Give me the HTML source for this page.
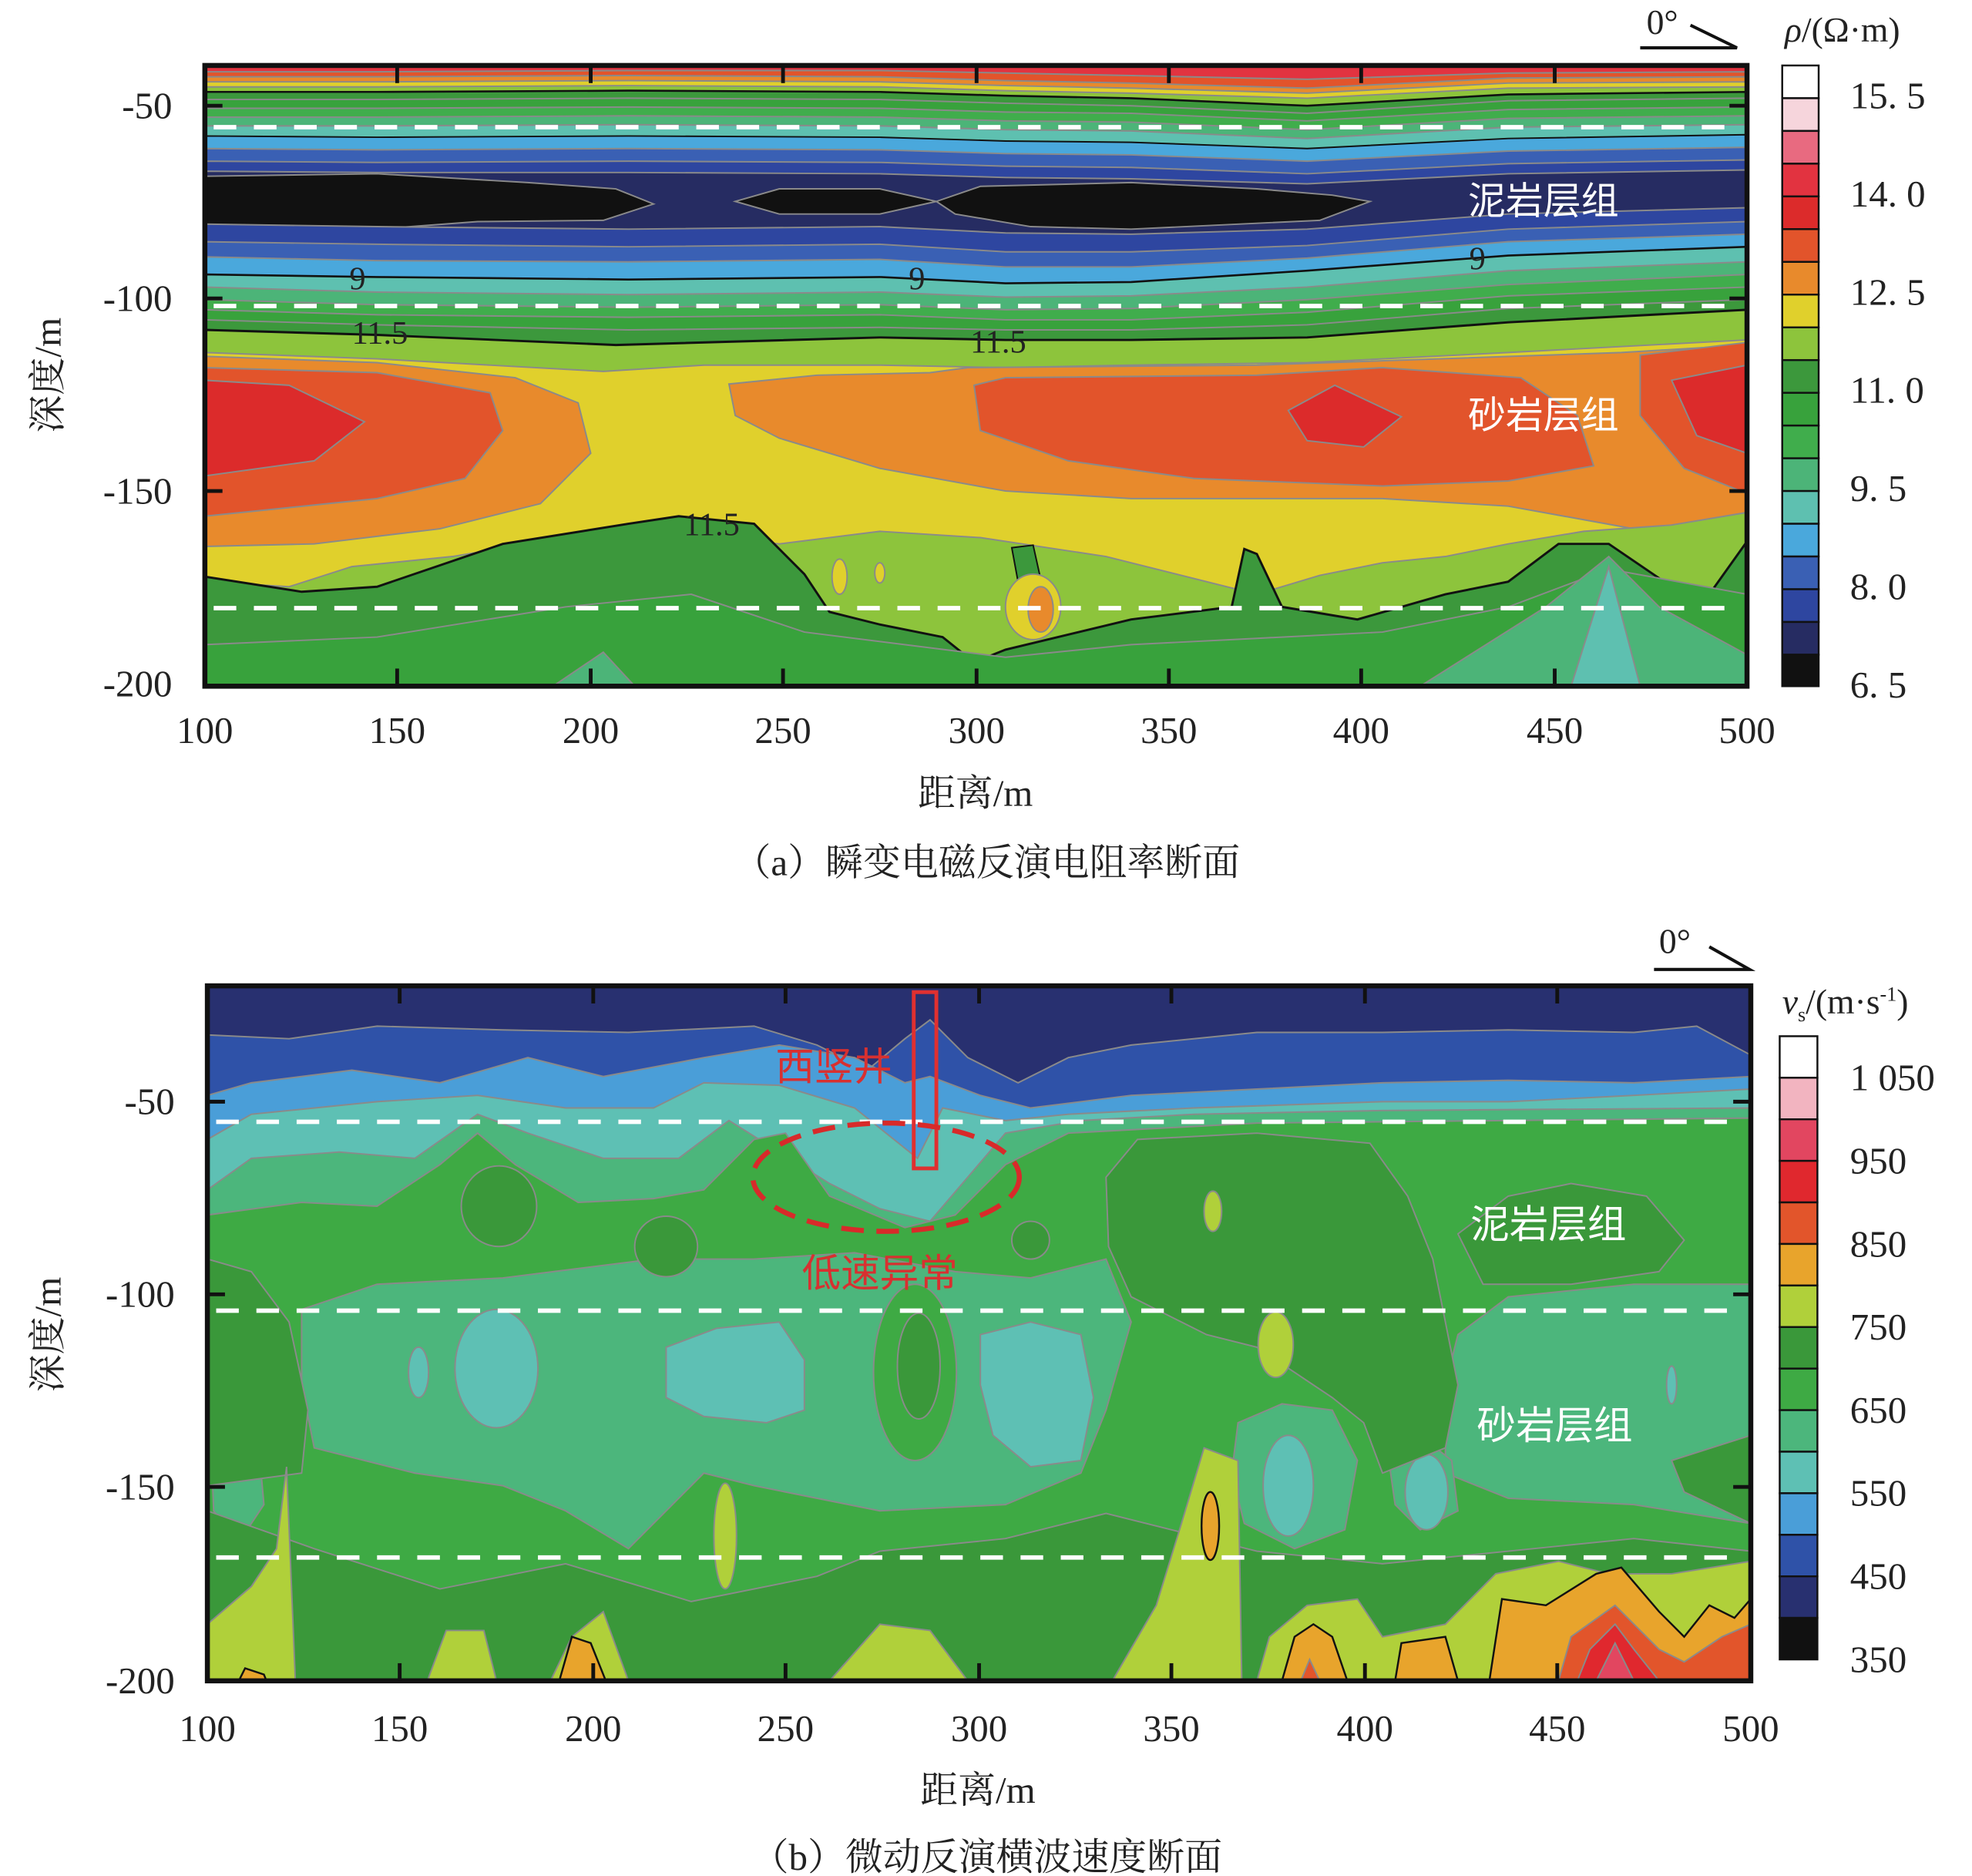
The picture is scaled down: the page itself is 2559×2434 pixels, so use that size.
<!DOCTYPE html>
<html><head><meta charset="utf-8">
<style>
html,body{margin:0;padding:0;background:#fff;}
svg{display:block;}
text{font-family:"Liberation Serif","Noto Serif CJK SC",serif;fill:#222;}
.cj{font-family:"Liberation Sans","Noto Sans CJK SC",sans-serif;}
</style></head><body>
<svg width="2559" height="2434" viewBox="0 0 1569 1490" preserveAspectRatio="none" xmlns="http://www.w3.org/2000/svg">
<defs>
<clipPath id="ca"><rect x="163" y="52" width="1227" height="493"/></clipPath>
<clipPath id="cb"><rect x="165" y="783" width="1228" height="552"/></clipPath>
</defs>
<rect width="1569" height="1490" fill="#fff"/>

<g clip-path="url(#ca)" stroke="#8a8a8a" stroke-width="1.2">
<rect x="163" y="52" width="1227" height="493" fill="#e23340"/>
<path fill="#e2542b" d="M163,57L300,57L500,56L700,56L800,58L900,60L1040,63L1200,58L1390,57L1390,545L163,545Z"/>
<path fill="#e88a2c" d="M163,61L300,61L500,60L700,61L800,64L900,66L1040,70L1200,62L1390,61L1390,545L163,545Z"/>
<path fill="#e0d02c" d="M163,65L300,65L500,64L700,65L800,68L900,70L1040,74L1200,66L1390,65L1390,545L163,545Z"/>
<path fill="#8dc43c" d="M163,69L300,69L500,68L700,69L800,72L900,74L1040,78L1200,70L1390,69L1390,545L163,545Z"/>
<path fill="#3c983c" stroke="#111" stroke-width="1.6" d="M163,73L300,73L500,72L700,73L800,76L900,78L1040,84L1200,75L1390,73L1390,545L163,545Z"/>
<path fill="#38a23c" d="M163,79L300,79L500,78L700,79L800,82L900,84L1040,90L1200,80L1390,78L1390,545L163,545Z"/>
<path fill="#40ad4c" d="M163,86L300,86L500,85L700,86L800,89L900,90L1040,96L1200,87L1390,85L1390,545L163,545Z"/>
<path fill="#4cb478" d="M163,93L300,93L500,92L700,93L800,96L900,97L1040,103L1200,94L1390,92L1390,545L163,545Z"/>
<path fill="#5ec0b0" d="M163,100L300,100L500,99L700,100L800,103L900,104L1040,110L1200,101L1390,99L1390,545L163,545Z"/>
<path fill="#4aa8dc" stroke="#111" d="M163,108L300,109L500,108L700,109L800,112L900,113L1040,118L1200,110L1390,107L1390,545L163,545Z"/>
<path fill="#3a60b4" d="M163,118L300,119L500,118L700,119L800,122L900,123L1040,128L1200,120L1390,117L1390,545L163,545Z"/>
<path fill="#2e46a0" d="M163,128L300,129L500,128L700,129L800,132L900,133L1040,138L1200,130L1390,127L1390,545L163,545Z"/>
<path fill="#262c62" d="M163,136L300,137L500,137L700,138L800,141L900,142L1040,146L1200,138L1390,135L1390,545L163,545Z"/>
<path fill="#111" d="M163,140L300,138L420,145L490,150L520,162L480,175L380,176L300,182L163,182Z"/>
<path fill="#111" d="M585,160L620,150L700,150L745,160L700,170L620,170Z"/>
<path fill="#111" d="M745,160L780,148L900,145L1000,150L1060,155L1090,160L1050,175L900,182L820,180L760,170Z"/>
<path fill="#2e46a0" d="M163,178L300,180L500,182L700,180L800,185L900,186L1040,182L1200,170L1390,165L1390,545L163,545Z"/>
<path fill="#3a60b4" d="M163,192L300,194L500,196L700,194L800,200L900,200L1040,195L1200,182L1390,176L1390,545L163,545Z"/>
<path fill="#4aa8dc" d="M163,204L300,207L500,208L700,206L800,212L900,212L1040,205L1200,192L1390,186L1390,545L163,545Z"/>
<path fill="#5ec0b0" stroke="#111" stroke-width="1.6" d="M163,218L300,220L500,222L700,220L800,225L900,224L1040,215L1200,203L1390,196L1390,545L163,545Z"/>
<path fill="#4cb478" d="M163,228L300,232L500,234L700,232L800,236L900,235L1040,228L1200,215L1390,208L1390,545L163,545Z"/>
<path fill="#40ad4c" d="M163,238L300,242L500,244L700,242L800,246L900,245L1040,238L1200,226L1390,218L1390,545L163,545Z"/>
<path fill="#38a23c" d="M163,246L300,250L500,252L700,250L800,254L900,254L1040,248L1200,235L1390,228L1390,545L163,545Z"/>
<path fill="#3c983c" d="M163,254L300,258L500,262L700,260L800,262L900,262L1040,258L1200,245L1390,238L1390,545L163,545Z"/>
<path fill="#8dc43c" stroke="#111" stroke-width="1.8" d="M163,262L300,266L490,274L700,268L800,270L900,270L1040,268L1200,256L1390,246L1390,545L163,545Z"/>
<path fill="#e0d02c" d="M163,280L300,285L480,295L560,290L700,290L800,292L900,290L1040,288L1200,280L1390,270L1390,545L163,545Z"/>
<path fill="#e88a2c" d="M163,283L300,288L410,300L460,320L470,360L430,400L350,420L250,432L163,434Z"/>
<path fill="#e88a2c" d="M580,305L650,298L740,296L770,292L1000,290L1290,280L1390,274L1390,412L1300,420L1200,402L1100,396L900,396L800,390L700,372L620,348L585,330Z"/>
<path fill="#e2542b" d="M163,292L300,296L390,312L400,342L370,380L300,396L163,410Z"/>
<path fill="#e2542b" d="M775,306L800,300L1000,298L1100,292L1210,300L1255,330L1268,370L1200,382L1100,386L950,380L850,366L780,342Z"/>
<path fill="#e2542b" d="M1305,282L1390,272L1390,392L1340,372L1305,330Z"/>
<path fill="#dc2b2b" d="M163,302L230,306L290,335L250,366L163,378Z"/>
<path fill="#dc2b2b" d="M1025,326L1062,306L1115,331L1085,355L1040,350Z"/>
<path fill="#dc2b2b" d="M1330,302L1390,290L1390,360L1350,346Z"/>
<path fill="#8dc43c" d="M163,462L230,466L280,450L360,442L420,432L520,422L620,432L700,422L780,427L880,442L960,462L1000,472L1050,457L1100,447L1150,442L1200,432L1260,422L1330,417L1390,407L1390,545L163,545Z"/>
<path fill="#3c983c" stroke="#111" stroke-width="1.8" d="M163,458L240,470L300,466L400,432L500,416L540,410L600,416L640,456L660,486L700,496L750,506L775,526L800,516L900,492L980,482L990,436L1000,440L1020,482L1080,492L1150,472L1200,462L1240,432L1280,432L1330,466L1360,472L1390,430L1390,545L163,545Z"/>
<path fill="#38a23c" d="M163,512L300,506L450,482L550,472L640,502L800,522L900,512L1000,507L1100,502L1200,482L1280,452L1390,472L1390,545L163,545Z"/>
<path fill="#4cb478" d="M440,545L480,518L505,545Z"/>
<path fill="#4cb478" d="M1130,545L1230,482L1280,442L1320,482L1390,520L1390,545Z"/>
<path fill="#5ec0b0" d="M1250,545L1280,450L1305,545Z"/>
<path fill="#3c983c" stroke="#111" d="M805,435L822,433L828,460L810,462Z"/>
<ellipse cx="822" cy="482" rx="22" ry="26" fill="#e0d02c"/>
<ellipse cx="828" cy="484" rx="10" ry="18" fill="#e88a2c"/>
<ellipse cx="668" cy="458" rx="6" ry="14" fill="#e0d02c"/>
<ellipse cx="700" cy="455" rx="4" ry="8" fill="#e0d02c"/>
</g>
<g stroke="#fff" stroke-width="3.5" stroke-dasharray="18 14">
<line x1="170" y1="101" x2="1385" y2="101"/>
<line x1="170" y1="243" x2="1385" y2="243"/>
<line x1="170" y1="483" x2="1385" y2="483"/>
</g>
<g font-size="26" fill="#111">
<text x="278" y="230">9</text><text x="723" y="230">9</text><text x="1169" y="214">9</text>
<text x="280" y="273">11.5</text><text x="772" y="280">11.5</text><text x="544" y="425">11.5</text>
</g>
<rect x="163" y="52" width="1227" height="493" fill="none" stroke="#111" stroke-width="4"/>
<g stroke="#111" stroke-width="3">
<line x1="316" y1="52" x2="316" y2="66"/><line x1="470" y1="52" x2="470" y2="66"/><line x1="623" y1="52" x2="623" y2="66"/><line x1="777" y1="52" x2="777" y2="66"/><line x1="930" y1="52" x2="930" y2="66"/><line x1="1083" y1="52" x2="1083" y2="66"/><line x1="1237" y1="52" x2="1237" y2="66"/>
<line x1="316" y1="545" x2="316" y2="531"/><line x1="470" y1="545" x2="470" y2="531"/><line x1="623" y1="545" x2="623" y2="531"/><line x1="777" y1="545" x2="777" y2="531"/><line x1="930" y1="545" x2="930" y2="531"/><line x1="1083" y1="545" x2="1083" y2="531"/><line x1="1237" y1="545" x2="1237" y2="531"/>
<line x1="163" y1="84" x2="177" y2="84"/><line x1="163" y1="237" x2="177" y2="237"/><line x1="163" y1="390" x2="177" y2="390"/>
<line x1="1390" y1="84" x2="1376" y2="84"/><line x1="1390" y1="237" x2="1376" y2="237"/><line x1="1390" y1="390" x2="1376" y2="390"/>
</g>
<text x="1168" y="170" font-size="30" class="cj" style="fill:#fff">泥岩层组</text>
<text x="1168" y="340" font-size="30" class="cj" style="fill:#fff">砂岩层组</text>
<g font-size="30" text-anchor="end">
<text x="137" y="94">-50</text><text x="137" y="247">-100</text><text x="137" y="400">-150</text><text x="137" y="553">-200</text>
</g>
<g font-size="30" text-anchor="middle">
<text x="163" y="590">100</text><text x="316" y="590">150</text><text x="470" y="590">200</text><text x="623" y="590">250</text><text x="777" y="590">300</text><text x="930" y="590">350</text><text x="1083" y="590">400</text><text x="1237" y="590">450</text><text x="1390" y="590">500</text>
<text x="776" y="640">距离/m</text>
<text x="785" y="695">（a）瞬变电磁反演电阻率断面</text>
</g>
<text transform="translate(48,298) rotate(-90)" font-size="30" text-anchor="middle">深度/m</text>
<text x="1310" y="27" font-size="28">0°</text>
<path d="M1305,38L1382,38L1345,20" fill="none" stroke="#111" stroke-width="2.5"/>
<text x="1420" y="33" font-size="28"><tspan font-style="italic">ρ</tspan>/(Ω·m)</text>
<g stroke="#111" stroke-width="1.5">
<rect x="1418" y="52" width="29" height="26" fill="#ffffff"/>
<rect x="1418" y="78" width="29" height="26" fill="#f6d5dc"/>
<rect x="1418" y="104" width="29" height="26" fill="#e86a80"/>
<rect x="1418" y="130" width="29" height="26" fill="#e23340"/>
<rect x="1418" y="156" width="29" height="26" fill="#dc2b2b"/>
<rect x="1418" y="182" width="29" height="26" fill="#e2542b"/>
<rect x="1418" y="208" width="29" height="26" fill="#e88a2c"/>
<rect x="1418" y="234" width="29" height="26" fill="#e0d02c"/>
<rect x="1418" y="260" width="29" height="26" fill="#8dc43c"/>
<rect x="1418" y="286" width="29" height="26" fill="#3c983c"/>
<rect x="1418" y="312" width="29" height="26" fill="#38a23c"/>
<rect x="1418" y="338" width="29" height="26" fill="#40ad4c"/>
<rect x="1418" y="364" width="29" height="26" fill="#4cb478"/>
<rect x="1418" y="390" width="29" height="26" fill="#5ec0b0"/>
<rect x="1418" y="416" width="29" height="26" fill="#4aa8dc"/>
<rect x="1418" y="442" width="29" height="26" fill="#3a60b4"/>
<rect x="1418" y="468" width="29" height="26" fill="#2e46a0"/>
<rect x="1418" y="494" width="29" height="26" fill="#262c62"/>
<rect x="1418" y="520" width="29" height="25" fill="#111"/>
</g>
<g font-size="30">
<text x="1472" y="86">15. 5</text><text x="1472" y="164">14. 0</text><text x="1472" y="242">12. 5</text><text x="1472" y="320">11. 0</text><text x="1472" y="398">9. 5</text><text x="1472" y="476">8. 0</text><text x="1472" y="554">6. 5</text>
</g>

<g clip-path="url(#cb)" stroke="#8a8a8a" stroke-width="1.2">
<rect x="165" y="783" width="1228" height="552" fill="#283070"/>
<path fill="#2f52a8" d="M165,822L230,825L300,815L400,818L500,820L600,815L650,830L690,850L720,825L740,810L770,840L810,860L850,840L900,830L1000,820L1100,820L1200,818L1300,820L1350,815L1393,838L1393,1335L165,1335Z"/>
<path fill="#4a9ed8" d="M165,870L200,860L280,850L350,860L420,840L480,855L560,840L620,830L680,840L720,860L740,855L780,870L820,880L900,870L1000,865L1100,860L1200,858L1300,860L1393,855L1393,1335L165,1335Z"/>
<path fill="#5ec0b4" d="M165,905L200,885L300,875L380,870L450,880L520,880L560,860L620,862L680,880L730,920L750,880L800,890L850,885L950,880L1100,875L1200,875L1300,870L1393,865L1393,1335L165,1335Z"/>
<path fill="#4cb67c" d="M165,945L200,920L270,915L330,920L380,885L420,900L480,920L540,920L580,890L620,915L660,940L700,960L740,970L800,900L860,890L950,885L1100,882L1393,880L1393,1335L165,1335Z"/>
<path fill="#3eaa44" d="M165,965L240,955L300,958L350,925L380,900L410,925L460,955L520,952L560,945L600,905L625,900L660,950L720,975L760,965L800,925L850,900L1000,892L1393,888L1393,1335L165,1335Z"/>
<path fill="#4cb67c" d="M240,1040L300,1020L400,1015L520,1000L600,1000L680,995L760,1010L820,1015L880,1000L900,1050L880,1120L860,1170L800,1195L700,1200L600,1180L560,1170L530,1200L500,1230L450,1200L400,1180L330,1170L250,1150L240,1100Z"/>
<path fill="#4cb67c" d="M1160,1060L1200,1030L1300,1020L1393,1020L1393,1210L1300,1195L1200,1190L1150,1170L1150,1100Z"/>
<path fill="#4cb67c" d="M985,1130L1020,1115L1060,1120L1080,1160L1070,1215L1030,1230L990,1210L980,1170Z"/>
<path fill="#4cb67c" d="M1105,1160L1130,1140L1155,1160L1160,1200L1130,1215L1110,1195Z"/>
<path fill="#4cb67c" d="M168,1150L185,1130L205,1140L210,1195L190,1225L170,1200Z"/>
<ellipse cx="728" cy="1090" rx="33" ry="70" fill="#3eaa44"/>
<ellipse cx="731" cy="1085" rx="17" ry="42" fill="#3a983a"/>
<ellipse cx="395" cy="1087" rx="33" ry="47" fill="#5ec0b4"/>
<ellipse cx="333" cy="1090" rx="8" ry="20" fill="#5ec0b4"/>
<path fill="#5ec0b4" d="M530,1070L570,1055L620,1050L640,1080L640,1120L610,1130L560,1125L530,1110Z"/>
<path fill="#5ec0b4" d="M780,1060L820,1050L860,1060L870,1110L860,1160L820,1165L790,1140L780,1100Z"/>
<ellipse cx="1025" cy="1180" rx="20" ry="40" fill="#5ec0b4"/>
<ellipse cx="1135" cy="1185" rx="17" ry="30" fill="#5ec0b4"/>
<ellipse cx="1330" cy="1100" rx="4" ry="15" fill="#5ec0b4"/>
<path fill="#3a983a" d="M880,935L905,905L1000,900L1090,908L1120,950L1140,1000L1150,1050L1160,1100L1150,1150L1100,1170L1085,1130L1060,1110L1030,1090L1000,1070L960,1060L940,1050L900,1030L882,990Z"/>
<path fill="#3a983a" d="M1160,980L1200,950L1250,940L1310,950L1340,985L1320,1010L1250,1020L1180,1020Z"/>
<ellipse cx="397" cy="958" rx="30" ry="32" fill="#3a983a"/>
<ellipse cx="530" cy="990" rx="25" ry="24" fill="#3a983a"/>
<ellipse cx="820" cy="985" rx="15" ry="15" fill="#3a983a"/>
<path fill="#3a983a" d="M165,1000L200,1010L230,1050L245,1120L240,1170L165,1180Z"/>
<path fill="#3a983a" d="M165,1200L250,1230L350,1262L450,1242L550,1272L650,1252L700,1232L800,1222L880,1202L1000,1232L1100,1242L1200,1232L1300,1222L1393,1232L1393,1335L165,1335Z"/>
<path fill="#3a983a" d="M1393,1210L1340,1185L1330,1160L1393,1140Z"/>
<path fill="#b0d03a" d="M165,1335L165,1290L200,1260L220,1230L228,1165L235,1335Z"/>
<path fill="#b0d03a" d="M340,1335L355,1295L385,1295L395,1335Z"/>
<path fill="#b0d03a" d="M438,1335L455,1300L480,1280L500,1335Z"/>
<path fill="#b0d03a" d="M660,1335L700,1290L740,1295L770,1335Z"/>
<path fill="#b0d03a" d="M885,1335L920,1275L940,1210L958,1150L985,1160L988,1335Z"/>
<path fill="#b0d03a" d="M1000,1335L1010,1300L1040,1275L1080,1270L1100,1300L1150,1290L1190,1250L1240,1240L1280,1250L1330,1250L1393,1240L1393,1335Z"/>
<ellipse cx="577" cy="1220" rx="9" ry="42" fill="#b0d03a"/>
<ellipse cx="1015" cy="1068" rx="14" ry="26" fill="#b0d03a"/>
<ellipse cx="965" cy="962" rx="7" ry="16" fill="#b0d03a"/>
<g stroke="#111" stroke-width="1.5">
<path fill="#e8a42c" d="M1020,1335L1030,1300L1045,1290L1060,1300L1072,1335Z"/>
<path fill="#e8a42c" d="M1110,1335L1115,1305L1150,1300L1160,1335Z"/>
<path fill="#e8a42c" d="M1185,1335L1195,1270L1230,1275L1270,1250L1290,1245L1320,1280L1340,1300L1360,1275L1380,1285L1393,1270L1393,1335Z"/>
<path fill="#e8a42c" d="M445,1335L455,1300L470,1305L482,1335Z"/>
<path fill="#e8a42c" d="M190,1335L195,1325L210,1330L212,1335Z"/>
<ellipse cx="963" cy="1212" rx="7" ry="27" fill="#e8a42c"/>
</g>
<path fill="#e2552b" d="M1240,1335L1250,1300L1285,1275L1320,1310L1340,1320L1370,1300L1393,1290L1393,1335Z"/>
<path fill="#e2552b" d="M1035,1335L1042,1318L1050,1335Z"/>
<path fill="#e0282e" d="M1255,1335L1265,1310L1285,1290L1300,1310L1320,1335Z"/>
<path fill="#e24660" d="M1270,1335L1285,1305L1300,1335Z"/>
</g>
<g stroke="#fff" stroke-width="3.5" stroke-dasharray="18 14">
<line x1="172" y1="891" x2="1385" y2="891"/>
<line x1="172" y1="1041" x2="1385" y2="1041"/>
<line x1="172" y1="1237" x2="1385" y2="1237"/>
</g>
<rect x="727" y="788" width="18" height="140" fill="none" stroke="#e03030" stroke-width="3"/>
<text x="617" y="858" font-size="31" class="cj" style="fill:#d83030">西竖井</text>
<ellipse cx="705" cy="935" rx="106" ry="43" fill="none" stroke="#d82a2a" stroke-width="4" stroke-dasharray="18 10"/>
<text x="638" y="1022" font-size="31" class="cj" style="fill:#d83030">低速异常</text>
<text x="1170" y="983" font-size="31" class="cj" style="fill:#fff">泥岩层组</text>
<text x="1175" y="1143" font-size="31" class="cj" style="fill:#fff">砂岩层组</text>
<rect x="165" y="783" width="1228" height="552" fill="none" stroke="#111" stroke-width="4"/>
<g stroke="#111" stroke-width="3">
<line x1="318" y1="783" x2="318" y2="797"/><line x1="472" y1="783" x2="472" y2="797"/><line x1="625" y1="783" x2="625" y2="797"/><line x1="779" y1="783" x2="779" y2="797"/><line x1="932" y1="783" x2="932" y2="797"/><line x1="1086" y1="783" x2="1086" y2="797"/><line x1="1239" y1="783" x2="1239" y2="797"/>
<line x1="318" y1="1335" x2="318" y2="1321"/><line x1="472" y1="1335" x2="472" y2="1321"/><line x1="625" y1="1335" x2="625" y2="1321"/><line x1="779" y1="1335" x2="779" y2="1321"/><line x1="932" y1="1335" x2="932" y2="1321"/><line x1="1086" y1="1335" x2="1086" y2="1321"/><line x1="1239" y1="1335" x2="1239" y2="1321"/>
<line x1="165" y1="875" x2="179" y2="875"/><line x1="165" y1="1028" x2="179" y2="1028"/><line x1="165" y1="1181" x2="179" y2="1181"/>
<line x1="1393" y1="875" x2="1379" y2="875"/><line x1="1393" y1="1028" x2="1379" y2="1028"/><line x1="1393" y1="1181" x2="1379" y2="1181"/>
</g>
<g font-size="30" text-anchor="end">
<text x="139" y="885">-50</text><text x="139" y="1038">-100</text><text x="139" y="1191">-150</text><text x="139" y="1345">-200</text>
</g>
<g font-size="30" text-anchor="middle">
<text x="165" y="1383">100</text><text x="318" y="1383">150</text><text x="472" y="1383">200</text><text x="625" y="1383">250</text><text x="779" y="1383">300</text><text x="932" y="1383">350</text><text x="1086" y="1383">400</text><text x="1239" y="1383">450</text><text x="1393" y="1383">500</text>
<text x="778" y="1432">距离/m</text>
<text x="785" y="1485">（b）微动反演横波速度断面</text>
</g>
<text transform="translate(48,1060) rotate(-90)" font-size="30" text-anchor="middle">深度/m</text>
<text x="1320" y="757" font-size="28">0°</text>
<path d="M1316,770L1392,770L1360,752" fill="none" stroke="#111" stroke-width="2.5"/>
<text x="1418" y="805" font-size="28"><tspan font-style="italic">v</tspan><tspan font-size="16" dy="6">s</tspan><tspan dy="-6">/(m·s</tspan><tspan font-size="16" dy="-10">-1</tspan><tspan dy="10">)</tspan></text>
<g stroke="#111" stroke-width="1.5">
<rect x="1416" y="823" width="30" height="33" fill="#ffffff"/>
<rect x="1416" y="856" width="30" height="33" fill="#f2b4c0"/>
<rect x="1416" y="889" width="30" height="33" fill="#e24660"/>
<rect x="1416" y="922" width="30" height="33" fill="#e0282e"/>
<rect x="1416" y="955" width="30" height="33" fill="#e2552b"/>
<rect x="1416" y="988" width="30" height="33" fill="#e8a42c"/>
<rect x="1416" y="1021" width="30" height="33" fill="#b0d03a"/>
<rect x="1416" y="1054" width="30" height="33" fill="#3a983a"/>
<rect x="1416" y="1087" width="30" height="33" fill="#3eaa44"/>
<rect x="1416" y="1120" width="30" height="33" fill="#4cb67c"/>
<rect x="1416" y="1153" width="30" height="33" fill="#5ec0b4"/>
<rect x="1416" y="1186" width="30" height="33" fill="#4a9ed8"/>
<rect x="1416" y="1219" width="30" height="33" fill="#2f52a8"/>
<rect x="1416" y="1252" width="30" height="33" fill="#283070"/>
<rect x="1416" y="1285" width="30" height="33" fill="#111"/>
</g>
<g font-size="30">
<text x="1472" y="866">1 050</text><text x="1472" y="932">950</text><text x="1472" y="998">850</text><text x="1472" y="1064">750</text><text x="1472" y="1130">650</text><text x="1472" y="1196">550</text><text x="1472" y="1262">450</text><text x="1472" y="1328">350</text>
</g>
</svg>
</body></html>
